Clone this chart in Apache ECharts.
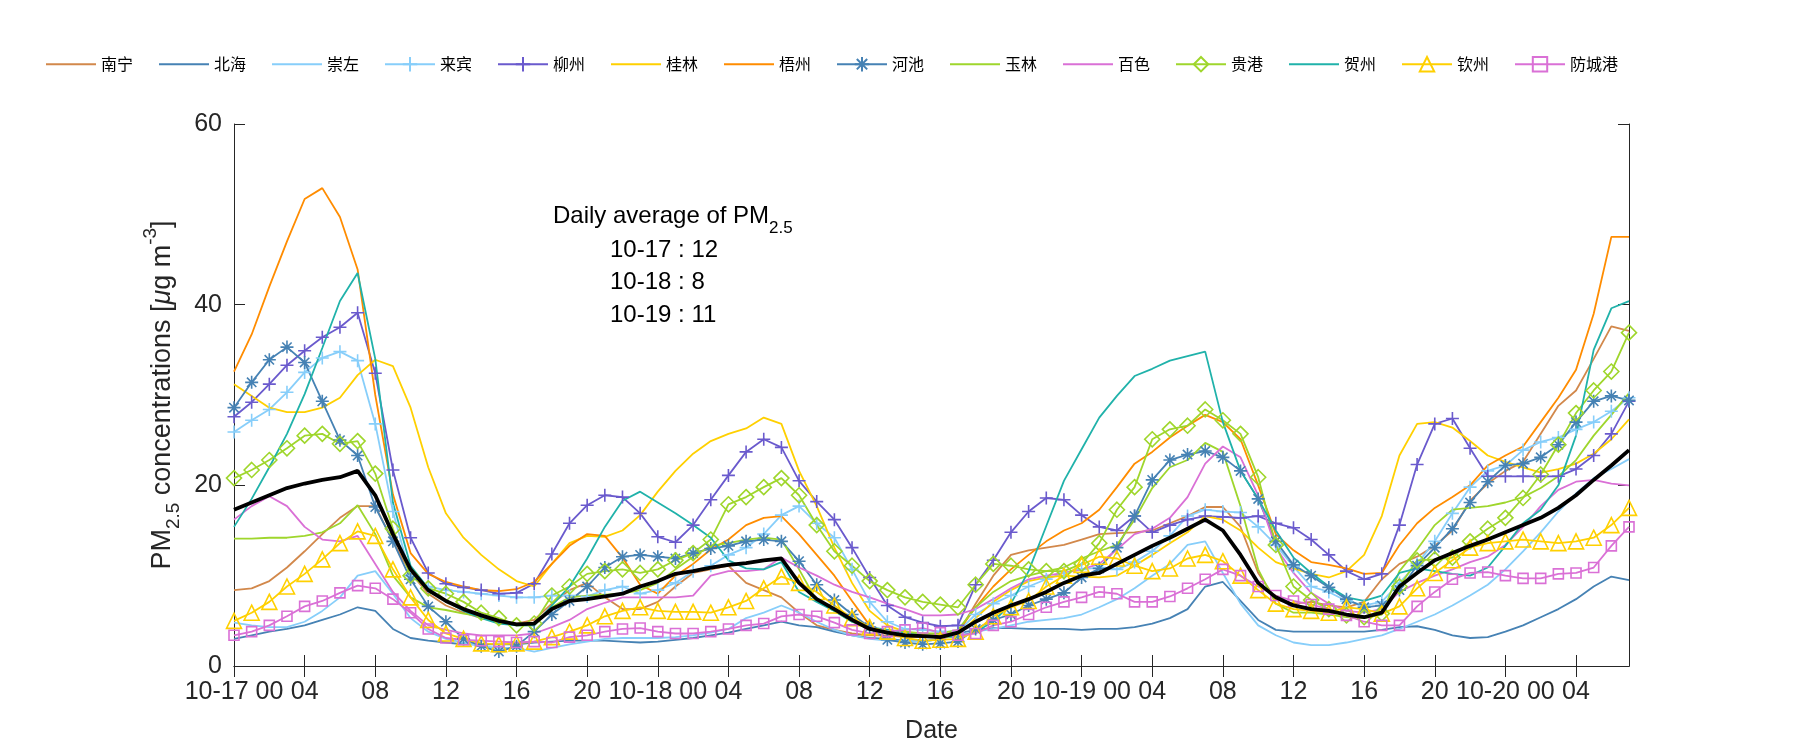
<!DOCTYPE html>
<html>
<head>
<meta charset="utf-8">
<script src="https://cdn.jsdelivr.net/npm/echarts@6/dist/echarts.min.js"></script>
<style>
html,body{margin:0;padding:0;background:#fff;}
#chart{width:1800px;height:750px;}
</style>
</head>
<body>
<div id="chart"></div>
<script>
// ---- data ----
const days = ['10-17', '10-18', '10-19', '10-20'];
const hourCount = 80;
const cities = ['南宁','北海','崇左','来宾','柳州','桂林','梧州','河池','玉林','百色','贵港','贺州','钦州','防城港'];
const dailyAverage = [['10-17', 12], ['10-18', 8], ['10-19', 11]];

const nanning = [8.4,8.6,9.4,10.9,12.7,14.6,16.4,17.7,17.7,13.8,
  10.3,8.0,6.7,5.9,5.3,4.9,4.7,5.1,6.9,8.4,
  9.2,7.6,6.3,6.3,7.1,8.8,10.3,10.7,11.1,9.2,
  8.4,7.6,5.9,4.5,4.0,3.6,3.4,3.4,3.2,3.2,
  3.2,3.6,6.9,10.0,12.3,12.8,13.1,13.4,14.0,14.6,
  14.7,14.8,15.0,15.8,16.6,17.6,17.6,15.4,10.3,7.4,
  6.9,7.1,6.7,6.5,7.1,9.6,11.3,12.1,13.3,15.0,
  18.3,20.2,21.6,22.6,25.7,28.8,30.5,34.0,37.6,37.1];
const beihai = [3.0,3.4,3.8,4.1,4.5,5.1,5.7,6.5,6.1,4.1,
  3.1,2.8,2.6,2.4,2.4,2.4,2.4,2.6,2.7,2.8,
  2.8,2.8,2.7,2.6,2.7,2.9,3.1,3.4,3.7,4.1,
  4.5,4.9,4.5,4.3,3.8,3.4,3.1,3.0,2.8,2.7,
  3.0,3.6,4.0,4.2,4.2,4.1,4.1,4.1,4.0,4.1,
  4.1,4.3,4.7,5.3,6.3,8.8,9.3,7.2,5.1,4.0,
  3.8,3.8,3.8,3.8,3.8,4.0,4.3,4.4,4.0,3.4,
  3.1,3.2,3.8,4.5,5.4,6.3,7.4,8.8,9.9,9.5];
const chongzuo = [4.8,4.5,4.3,4.3,4.9,6.1,7.6,10.0,10.5,8.0,
  5.3,3.8,3.0,2.6,2.2,2.0,2.0,1.6,2.0,2.4,
  2.7,3.0,3.1,3.1,3.1,3.2,3.4,3.7,4.1,5.3,
  5.9,6.7,5.9,4.9,4.0,3.4,3.0,2.8,2.8,2.7,
  3.0,3.4,3.8,4.1,4.5,4.9,5.1,5.3,5.7,6.5,
  7.4,8.6,10.0,11.3,13.4,13.8,10.3,6.9,4.5,3.4,
  2.6,2.3,2.3,2.6,3.0,3.4,4.1,4.9,5.7,6.7,
  7.8,9.0,10.7,12.7,14.8,17.1,19.1,20.8,21.8,22.9];
const laibin = [25.9,27.2,28.4,30.3,32.5,34.1,34.8,33.8,26.8,17.1,
  10.0,8.8,8.4,8.2,8.0,7.8,7.6,7.6,7.8,7.8,
  7.7,8.4,8.8,8.0,8.4,9.2,10.5,11.1,12.3,13.1,
  14.6,16.7,17.7,15.8,14.2,10.7,7.1,4.9,4.1,4.0,
  3.8,3.8,5.7,6.9,7.8,8.8,9.6,10.3,10.7,10.9,
  10.7,11.5,12.7,14.4,16.6,17.3,17.1,17.0,15.4,13.4,
  11.0,8.8,8.2,7.2,6.7,7.1,9.2,11.3,13.8,16.9,
  19.8,21.6,22.2,23.9,24.8,25.3,26.2,27.0,28.2,29.7];
const liuzhou = [27.6,29.2,31.2,33.3,34.9,36.4,37.5,39.1,32.4,21.7,
  14.2,10.3,9.1,8.7,8.4,8.0,8.1,9.1,12.4,15.8,
  17.8,18.9,18.7,16.9,14.3,13.7,15.6,18.4,21.1,23.7,
  25.1,24.2,20.5,18.2,16.2,13.1,9.8,6.7,5.4,4.8,
  4.4,4.5,9.0,11.7,14.8,17.1,18.6,18.4,16.7,15.4,
  15.0,16.6,14.8,15.6,16.2,16.6,16.5,16.4,16.6,15.8,
  15.3,14.0,12.3,10.5,9.6,10.2,15.6,22.3,26.8,27.4,
  24.1,21.0,21.0,21.0,21.0,21.0,21.8,23.3,25.7,29.3];
const guilin = [31.2,29.9,28.6,28.1,28.1,28.6,29.7,32.2,33.9,33.2,
  28.6,22.0,16.9,14.2,12.3,10.7,9.4,8.8,11.3,13.6,
  14.4,14.3,15.0,16.7,19.3,21.6,23.5,24.9,25.7,26.3,
  27.5,26.8,21.6,17.7,13.1,9.2,6.1,4.5,3.8,3.4,
  3.1,3.4,5.3,7.1,8.4,9.4,9.8,10.0,9.9,9.8,
  10.0,11.1,12.3,13.6,14.8,16.6,16.2,15.0,13.1,11.5,
  10.8,10.2,9.8,10.5,12.3,16.6,23.3,26.8,27.0,26.4,
  24.9,23.3,22.6,22.0,21.4,21.8,22.4,23.5,25.1,27.3];
const wuzhou = [32.6,36.7,42.0,47.0,51.7,52.9,49.7,43.9,30.0,19.0,
  12.5,10.2,9.3,8.8,8.4,8.3,8.5,9.3,11.3,13.3,
  14.6,14.4,12.0,9.0,8.0,10.0,11.3,12.9,14.0,15.6,
  16.4,16.6,14.6,12.3,10.0,7.2,4.5,3.6,3.2,3.4,
  3.4,3.8,6.5,8.8,10.7,12.3,13.8,15.0,15.8,17.3,
  19.8,22.4,23.7,25.3,26.6,27.8,27.0,25.1,20.0,14.6,
  12.8,11.5,11.2,10.8,10.2,10.3,13.4,15.8,17.5,18.7,
  20.0,22.2,23.3,24.3,27.0,29.7,32.8,39.0,47.5,47.5];
const hechi = [28.6,31.4,33.9,35.3,33.6,29.3,25.0,23.3,17.6,13.8,
  9.6,6.6,4.9,3.0,2.2,1.6,2.2,3.8,5.7,7.2,
  8.8,10.9,12.1,12.3,12.1,11.9,12.5,13.0,13.3,13.8,
  14.0,13.8,11.6,9.0,7.3,5.7,4.3,2.9,2.6,2.4,
  2.5,2.7,4.1,5.1,5.7,6.7,7.4,8.1,9.8,10.8,
  13.1,16.6,20.6,22.8,23.4,23.8,23.1,21.6,18.5,13.8,
  11.2,10.0,8.7,7.4,6.5,6.7,8.4,11.1,13.1,15.2,
  18.1,20.4,22.2,22.4,23.1,24.5,27.0,29.3,29.9,29.4];
const yulin = [14.1,14.1,14.2,14.2,14.4,14.8,15.8,17.8,14.6,10.0,
  7.6,6.5,6.2,5.8,5.5,5.1,4.5,4.5,6.5,7.6,
  7.8,7.9,8.0,8.4,9.2,10.7,12.1,13.3,13.6,14.0,
  14.2,14.0,10.7,7.2,6.1,4.9,4.1,4.0,3.8,3.6,
  3.6,4.0,6.5,8.2,9.4,10.0,10.5,10.9,11.9,12.7,
  13.4,16.2,19.7,22.0,22.8,24.7,23.7,17.7,10.7,6.9,
  5.9,5.9,5.7,5.4,5.3,5.7,10.5,12.9,15.6,17.3,
  17.5,17.7,18.1,18.7,19.7,21.0,22.8,25.5,27.8,30.2];
const baise = [16.2,17.7,18.8,17.7,15.4,14.0,13.8,14.4,11.3,8.2,
  6.1,4.5,4.0,3.6,3.4,3.4,3.4,3.6,4.3,5.1,
  6.3,7.0,7.6,7.6,7.6,7.6,7.8,10.0,10.5,10.5,
  10.7,12.0,10.9,10.0,9.0,8.2,7.6,6.9,6.3,5.6,
  5.6,5.7,6.3,7.4,8.6,9.6,10.0,10.3,10.7,11.3,
  12.9,14.6,15.2,16.4,18.7,22.4,24.3,23.1,18.9,13.1,
  10.3,8.1,6.9,6.1,5.9,6.3,8.2,9.2,10.0,10.7,
  11.5,12.1,13.4,15.4,17.7,19.5,20.4,20.6,20.2,20.0];
const guigang = [20.8,21.7,22.8,24.1,25.5,25.7,24.6,24.9,21.3,15.2,
  10.0,8.6,8.0,7.1,5.9,5.3,4.5,4.7,7.8,8.8,
  10.2,10.5,10.7,10.3,10.7,11.7,12.5,14.0,17.9,18.7,
  19.8,20.8,18.9,15.6,12.7,11.1,9.4,8.4,7.6,7.1,
  6.8,6.5,9.0,11.3,11.1,10.7,10.5,10.5,11.3,13.6,
  17.3,19.8,25.1,26.2,26.6,28.4,27.2,25.7,20.9,13.4,
  8.8,7.3,6.3,5.6,5.4,5.8,8.8,11.7,11.8,12.0,
  13.8,15.2,16.4,18.6,21.2,24.5,28.0,30.5,32.6,36.9];
const hezhou = [15.4,18.5,22.0,25.7,30.1,35.2,40.4,43.5,34.0,18.1,
  11.1,8.6,7.2,6.1,5.3,4.7,4.5,4.5,6.7,8.8,
  11.9,15.4,18.3,19.3,18.1,16.9,15.6,14.2,11.7,10.8,
  10.7,11.5,8.2,7.1,6.1,4.9,4.3,4.0,3.6,3.4,
  3.3,3.2,3.8,4.9,6.9,10.5,15.5,20.5,24.0,27.5,
  29.9,32.1,32.9,33.8,34.3,34.8,27.0,21.6,18.5,15.0,
  12.0,10.3,8.8,7.6,7.2,7.8,10.3,10.8,10.5,10.2,
  10.0,10.9,13.3,15.8,17.3,20.0,25.5,35.0,39.6,40.4];
const qinzhou = [5.0,5.9,7.1,8.8,10.2,11.8,13.6,14.9,14.4,10.7,
  7.6,5.1,3.6,3.0,2.5,2.4,2.5,2.7,3.2,3.8,
  4.5,5.5,6.1,6.5,6.1,6.0,6.0,5.9,6.5,7.2,
  8.6,9.9,9.2,8.2,6.7,5.3,4.3,3.8,3.1,2.8,
  2.9,3.0,3.8,5.5,6.5,7.2,8.8,10.0,11.2,12.1,
  11.9,11.1,10.5,10.8,11.9,12.3,11.6,10.0,8.4,6.9,
  6.3,6.1,5.9,6.5,6.3,5.8,6.6,8.6,10.3,11.7,
  13.1,13.6,13.8,14.0,13.8,13.6,13.8,14.2,15.6,17.5];
const fangchenggang = [3.4,3.8,4.5,5.5,6.6,7.2,8.1,8.9,8.6,7.4,
  5.9,4.1,3.1,2.9,2.8,2.7,2.6,2.7,2.6,3.2,
  3.4,3.8,4.1,4.2,3.8,3.6,3.6,3.8,4.1,4.5,
  4.7,5.5,5.7,5.5,4.8,4.0,3.6,3.8,4.0,4.2,
  3.7,3.4,3.6,4.5,4.9,5.7,6.5,7.1,7.6,8.2,
  8.0,7.1,7.1,7.7,8.6,9.6,10.7,10.0,8.8,7.8,
  7.2,6.8,6.3,5.6,4.9,4.5,4.5,6.6,8.2,9.6,
  10.3,10.4,10.0,9.7,9.7,10.2,10.3,10.9,13.3,15.4];
const meanAll = [17.3,18.1,18.9,19.7,20.2,20.6,20.9,21.6,18.9,14.6,
  10.7,8.4,7.2,6.3,5.6,5.0,4.6,4.7,6.3,7.2,
  7.4,7.7,8.0,8.8,9.4,10.2,10.5,10.9,11.2,11.4,
  11.7,11.9,9.2,7.4,6.3,5.1,4.1,3.7,3.4,3.3,
  3.2,3.7,4.9,5.9,6.7,7.4,8.2,9.2,10.0,10.3,
  11.3,12.3,13.3,14.2,15.2,16.2,15.0,12.3,9.2,7.6,
  6.7,6.3,6.1,5.7,5.4,5.9,8.8,10.3,11.7,12.5,
  13.3,14.0,14.8,15.6,16.4,17.5,18.9,20.6,22.2,23.9];

const cityData = [nanning, beihai, chongzuo, laibin, liuzhou, guilin, wuzhou, hechi, yulin, baise, guigang, hezhou, qinzhou, fangchenggang];

// ---- styles ----
const PLUS = 'path://M0,-1L0,1M-1,0L1,0';
const STAR = 'path://M0,-1L0,1M-1,0L1,0M-0.72,-0.72L0.72,0.72M0.72,-0.72L-0.72,0.72';
const DIAMOND = 'path://M0,-1L1,0L0,1L-1,0Z';
const TRI = 'path://M0,-1L1,0.75L-1,0.75Z';
const SQUARE = 'path://M-1,-1L1,-1L1,1L-1,1Z';
const styleList = [
  {c:'#D2884B', m:'none'},
  {c:'#4682B4', m:'none'},
  {c:'#87CEFA', m:'none'},
  {c:'#87CEFA', m:PLUS, s:13},
  {c:'#6A5ACD', m:PLUS, s:13},
  {c:'#FFD000', m:'none'},
  {c:'#FF8C00', m:'none'},
  {c:'#4682B4', m:STAR, s:13},
  {c:'#9FD62C', m:'none'},
  {c:'#DA70D6', m:'none'},
  {c:'#9FD62C', m:DIAMOND, s:15},
  {c:'#20B2AA', m:'none'},
  {c:'#FFD000', m:TRI, s:15},
  {c:'#DA70D6', m:SQUARE, s:10}
];

const categories = [];
for (let h = 0; h < hourCount; h++) {
  categories.push(days[Math.floor(h / 24)] + ' ' + String(h % 24).padStart(2, '0'));
}
const tickEvery = 4;
const showTick = (i) => i % tickEvery === 0;
const fmtLabel = (v) => v.endsWith(' 00') ? v : v.slice(-2);

const FONT = 'Liberation Sans, Arial, sans-serif';
const AX = '#262626';

const series = cities.map((name, i) => {
  const st = styleList[i];
  const hasMark = st.m !== 'none';
  return {
    name: name,
    type: 'line',
    data: cityData[i],
    symbol: hasMark ? st.m : 'circle',
    symbolSize: hasMark ? st.s : 1,
    showSymbol: hasMark,
    showAllSymbol: true,
    lineStyle: {color: st.c, width: 1.8},
    itemStyle: hasMark ? {color: 'rgba(0,0,0,0)', borderColor: st.c, borderWidth: 1.6} : {color: st.c, opacity: 0},
    emphasis: {disabled: true},
    animation: false
  };
});
series.push({
  name: 'mean',
  type: 'line',
  data: meanAll,
  symbol: 'none',
  lineStyle: {color: '#000', width: 3.8},
  itemStyle: {color: '#000'},
  emphasis: {disabled: true},
  z: 5,
  animation: false
});

const legendData = cities.map((name, i) => styleList[i].m === 'none'
  ? {name: name, itemStyle: {opacity: 0}}
  : {name: name});

const chart = echarts.init(document.getElementById('chart'), null, {renderer: 'canvas'});
const option = {
  backgroundColor: '#fff',
  animation: false,
  legend: {
    data: legendData,
    left: 40,
    top: 51,
    itemWidth: 50,
    itemHeight: 18,
    itemGap: 25,
    textStyle: {fontFamily: 'Noto Sans CJK SC', fontSize: 16, color: '#000'},
    selectedMode: false
  },
  grid: {left: 234, right: 171, top: 124, bottom: 84},
  xAxis: [{
    type: 'category',
    data: categories,
    boundaryGap: false,
    axisLine: {lineStyle: {color: AX, width: 1}},
    axisTick: {inside: true, length: 11, interval: (i) => showTick(i), lineStyle: {color: AX}},
    axisLabel: {interval: (i) => showTick(i), formatter: fmtLabel, fontFamily: FONT, fontSize: 25, color: AX, margin: 14},
    splitLine: {show: false},
    name: 'Date',
    nameLocation: 'middle',
    nameGap: 53,
    nameTextStyle: {fontFamily: FONT, fontSize: 25, color: AX}
  }, {
    type: 'category',
    data: categories,
    boundaryGap: false,
    position: 'top',
    axisLine: {lineStyle: {color: AX, width: 1}},
    axisTick: {inside: true, length: 11, interval: (i) => showTick(i), lineStyle: {color: AX}},
    axisLabel: {show: false},
    splitLine: {show: false}
  }],
  yAxis: [{
    type: 'value',
    min: 0, max: 60, interval: 20,
    axisLine: {show: true, lineStyle: {color: AX, width: 1}},
    axisTick: {show: true, inside: true, length: 11, lineStyle: {color: AX}},
    axisLabel: {fontFamily: FONT, fontSize: 25, color: AX, margin: 12},
    splitLine: {show: false},
    name: '{a|PM}{sub|2.5}{a| concentrations [}{i|μ}{a|g m}{sup|-3}{a|]}',
    nameLocation: 'middle',
    nameRotate: 90,
    nameGap: 45,
    nameTextStyle: {
      fontFamily: FONT, fontSize: 27, color: AX,
      rich: {
        a: {fontFamily: FONT, fontSize: 27, color: AX, lineHeight: 30, padding: [8,0,0,0], verticalAlign: 'top'},
        i: {fontFamily: FONT, fontSize: 27, fontStyle: 'italic', color: AX, lineHeight: 30, padding: [8,0,0,0], verticalAlign: 'top'},
        sub: {fontFamily: FONT, fontSize: 19, color: AX, lineHeight: 21, padding: [23,0,0,0], verticalAlign: 'top'},
        sup: {fontFamily: FONT, fontSize: 19, color: AX, lineHeight: 21, padding: [0,0,0,0], verticalAlign: 'top'}
      }
    }
  }, {
    type: 'value',
    position: 'right',
    min: 0, max: 60, interval: 20,
    axisLine: {show: true, lineStyle: {color: AX, width: 1}},
    axisTick: {show: true, inside: true, length: 11, lineStyle: {color: AX}},
    axisLabel: {show: false},
    splitLine: {show: false}
  }],
  graphic: [
    {
      type: 'text', left: 553, top: 204,
      style: {
        text: '{a|Daily average of PM}{sub|2.5}',
        rich: {
          a: {fontFamily: FONT, fontSize: 24, fill: '#000', lineHeight: 28, verticalAlign: 'top'},
          sub: {fontFamily: FONT, fontSize: 17, fill: '#000', lineHeight: 20, padding: [16,0,0,0], verticalAlign: 'top'}
        }
      }
    }
  ].concat(dailyAverage.map((d, k) => ({
    type: 'text', left: 610, top: 238 + k * 32.5,
    style: {text: d[0] + ' : ' + d[1], font: '24px ' + FONT, fill: '#000'}
  }))),
  series: series
};
chart.setOption(option);
</script>
</body>
</html>
